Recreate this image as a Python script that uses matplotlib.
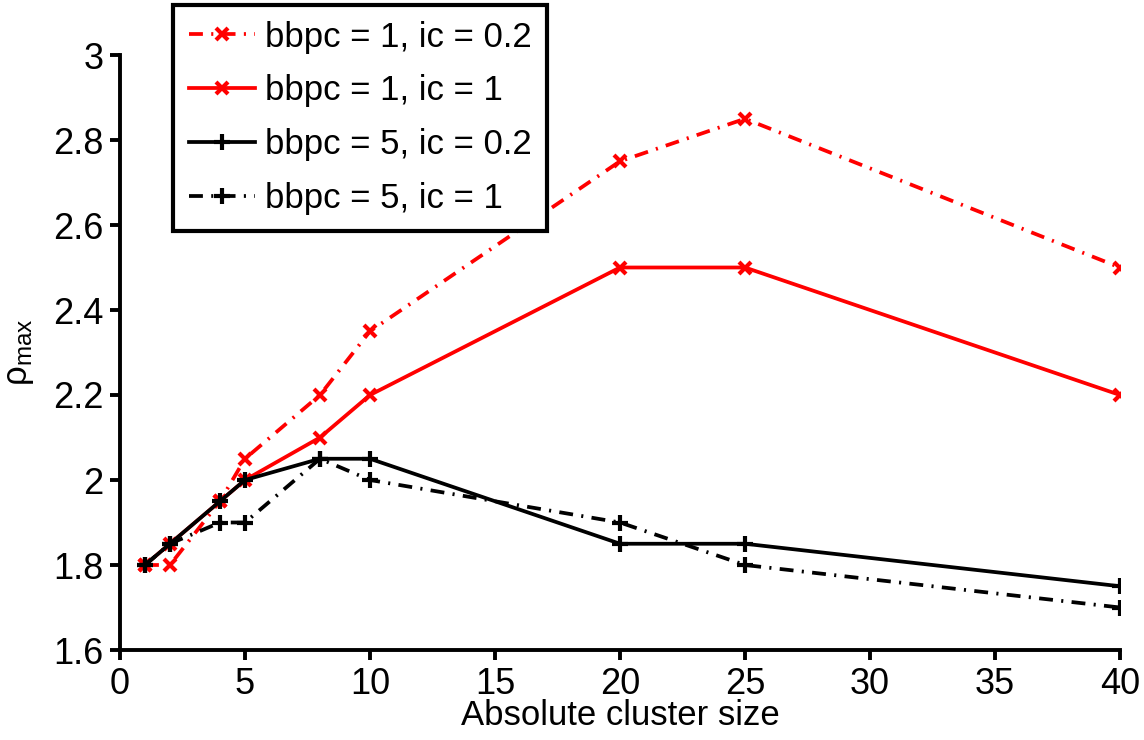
import matplotlib
matplotlib.use('Agg')
import matplotlib.pyplot as plt
from matplotlib.ticker import FormatStrFormatter

# cluster sizes and rho_max values
cluster_size = [1, 2, 4, 5, 8, 10, 20, 25, 40]
bbpc1_ic02 = [1.8, 1.8, 1.95, 2.05, 2.2, 2.35, 2.75, 2.85, 2.5]
bbpc1_ic1 = [1.8, 1.85, 1.95, 2.0, 2.1, 2.2, 2.5, 2.5, 2.2]
bbpc5_ic02 = [1.8, 1.85, 1.95, 2.0, 2.05, 2.05, 1.85, 1.85, 1.75]
bbpc5_ic1 = [1.8, 1.85, 1.9, 1.9, 2.05, 2.0, 1.9, 1.8, 1.7]

x_ticks = [0, 5, 10, 15, 20, 25, 30, 35, 40]
y_ticks = [1.6, 1.8, 2.0, 2.2, 2.4, 2.6, 2.8, 3.0]

plt.rcParams['font.family'] = ['Liberation Sans', 'DejaVu Sans']
plt.rcParams['mathtext.fontset'] = 'custom'
plt.rcParams['mathtext.rm'] = 'Liberation Sans'
plt.rcParams['lines.scale_dashes'] = False

fig = plt.figure(figsize=(11.44, 7.40), dpi=100)
ax = fig.add_axes([120 / 1144, 90 / 740, 1000 / 1144, 595 / 740])

dashdot = (10, 6, 1.5, 6)
lw = 2.7
ax.plot(cluster_size, bbpc1_ic02, color='red', lw=lw, dashes=dashdot,
        marker='x', ms=8, mew=3, label='bbpc = 1, ic = 0.2')
ax.plot(cluster_size, bbpc1_ic1, color='red', lw=lw, ls='-',
        marker='x', ms=8, mew=3, label='bbpc = 1, ic = 1')
ax.plot(cluster_size, bbpc5_ic02, color='black', lw=lw, ls='-',
        marker='+', ms=11, mew=3, label='bbpc = 5, ic = 0.2')
ax.plot(cluster_size, bbpc5_ic1, color='black', lw=lw, dashes=dashdot,
        marker='+', ms=11, mew=3, label='bbpc = 5, ic = 1')

ax.set_xlim(0, 40)
ax.set_ylim(1.6, 3.0)
ax.set_xticks(x_ticks)
ax.set_yticks(y_ticks)
ax.yaxis.set_major_formatter(FormatStrFormatter('%g'))

for s in ['top', 'right']:
    ax.spines[s].set_visible(False)
for s in ['left', 'bottom']:
    ax.spines[s].set_linewidth(2.8)
ax.tick_params(direction='out', length=7, width=2.8, labelsize=26, pad=5)

ax.set_xlabel('Absolute cluster size', fontsize=25, labelpad=-2)
ax.set_ylabel(r'$\mathregular{\rho_{max}}$', fontsize=25, labelpad=12)

leg = fig.legend(loc='upper left', bbox_to_anchor=(173 / 1144, 1 - 5 / 740),
                 fontsize=25, fancybox=False, framealpha=1, edgecolor='black',
                 handlelength=1.9, handletextpad=0.3, borderpad=0.45,
                 labelspacing=0.6, borderaxespad=0)
leg.get_frame().set_linewidth(3)

plt.savefig('out.png', dpi=100)
